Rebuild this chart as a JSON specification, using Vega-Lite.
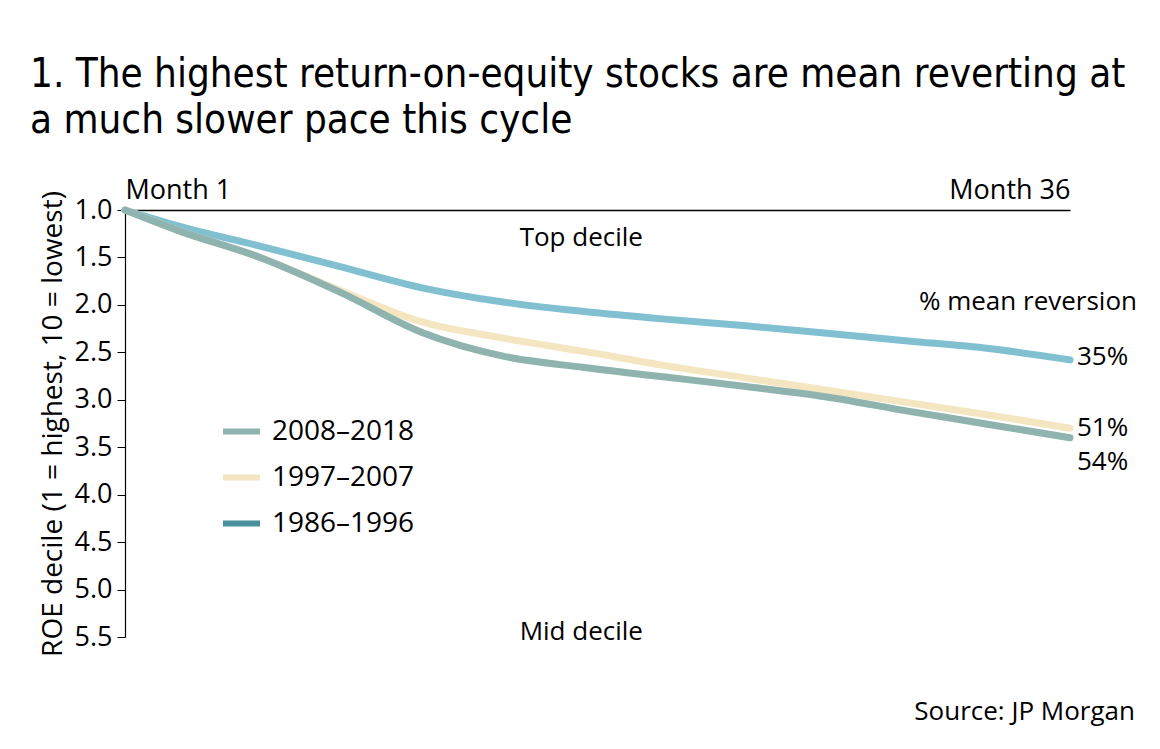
{
  "$schema": "https://vega.github.io/schema/vega-lite/v6.json",
  "width": 945,
  "height": 427,
  "autosize": {"type": "none"},
  "padding": {"left": 125, "top": 210, "right": 90, "bottom": 112},
  "background": "white",
  "title": {
    "text": ["1. The highest return-on-equity stocks are mean reverting at", "a much slower pace this cycle"],
    "anchor": "start",
    "frame": "group",
    "dx": -95,
    "offset": 35,
    "font": "DejaVu Sans Condensed",
    "fontSize": 40,
    "fontWeight": "normal",
    "lineHeight": 46,
    "color": "#000000"
  },
  "config": {
    "view": {"stroke": null},
    "font": "Open Sans",
    "axis": {"labelFont": "Open Sans", "titleFont": "Open Sans", "grid": false}
  },
  "datasets": {
    "series": [
      {"period": "1986–1996", "month": 1, "decile": 1.0},
      {"period": "1986–1996", "month": 3, "decile": 1.17},
      {"period": "1986–1996", "month": 6, "decile": 1.38},
      {"period": "1986–1996", "month": 9, "decile": 1.60},
      {"period": "1986–1996", "month": 12, "decile": 1.82},
      {"period": "1986–1996", "month": 15, "decile": 1.97},
      {"period": "1986–1996", "month": 18, "decile": 2.07},
      {"period": "1986–1996", "month": 21, "decile": 2.15},
      {"period": "1986–1996", "month": 24, "decile": 2.22},
      {"period": "1986–1996", "month": 27, "decile": 2.30},
      {"period": "1986–1996", "month": 30, "decile": 2.38},
      {"period": "1986–1996", "month": 33, "decile": 2.46},
      {"period": "1986–1996", "month": 36, "decile": 2.58},
      {"period": "1997–2007", "month": 1, "decile": 1.0},
      {"period": "1997–2007", "month": 3, "decile": 1.22},
      {"period": "1997–2007", "month": 6, "decile": 1.50},
      {"period": "1997–2007", "month": 9, "decile": 1.85},
      {"period": "1997–2007", "month": 12, "decile": 2.18},
      {"period": "1997–2007", "month": 15, "decile": 2.35},
      {"period": "1997–2007", "month": 18, "decile": 2.49},
      {"period": "1997–2007", "month": 21, "decile": 2.64},
      {"period": "1997–2007", "month": 24, "decile": 2.77},
      {"period": "1997–2007", "month": 27, "decile": 2.90},
      {"period": "1997–2007", "month": 30, "decile": 3.03},
      {"period": "1997–2007", "month": 33, "decile": 3.16},
      {"period": "1997–2007", "month": 36, "decile": 3.30},
      {"period": "2008–2018", "month": 1, "decile": 1.0},
      {"period": "2008–2018", "month": 3, "decile": 1.22},
      {"period": "2008–2018", "month": 6, "decile": 1.50},
      {"period": "2008–2018", "month": 9, "decile": 1.87},
      {"period": "2008–2018", "month": 12, "decile": 2.29},
      {"period": "2008–2018", "month": 15, "decile": 2.54},
      {"period": "2008–2018", "month": 18, "decile": 2.66},
      {"period": "2008–2018", "month": 21, "decile": 2.76},
      {"period": "2008–2018", "month": 24, "decile": 2.86},
      {"period": "2008–2018", "month": 27, "decile": 2.97},
      {"period": "2008–2018", "month": 30, "decile": 3.12},
      {"period": "2008–2018", "month": 33, "decile": 3.26},
      {"period": "2008–2018", "month": 36, "decile": 3.40}
    ],
    "center": [
      {"label": "Top decile", "month": 17.9, "decile": 1.3},
      {"label": "Mid decile", "month": 17.9, "decile": 5.45}
    ],
    "ends": [
      {"label": "35%", "month": 36, "decile": 2.55},
      {"label": "51%", "month": 36, "decile": 3.30},
      {"label": "54%", "month": 36, "decile": 3.66}
    ],
    "heading": [
      {"label": "% mean reversion", "month": 36, "decile": 1.97}
    ],
    "source": [
      {"label": "Source: JP Morgan", "month": 36, "decile": 6.29}
    ]
  },
  "layer": [
    {
      "data": {"values": []},
      "mark": {"type": "line", "strokeWidth": 6},
      "encoding": {
        "x": {"field": "month", "type": "quantitative"},
        "y": {"field": "decile", "type": "quantitative"},
        "color": {
          "field": "period", "type": "nominal",
          "scale": {"domain": ["2008–2018", "1997–2007", "1986–1996"], "range": ["#8fb3ae", "#f3e6c1", "#4a8f9c"]},
          "legend": {
            "orient": "none", "legendX": 95, "legendY": 200,
            "title": null, "symbolType": "stroke", "symbolSize": 1369, "symbolStrokeWidth": 6,
            "labelFontSize": 28, "labelColor": "#000000", "labelOffset": 9, "rowPadding": 10
          }
        }
      }
    },
    {
      "data": {"name": "series"},
      "mark": {"type": "line", "strokeWidth": 7, "strokeCap": "round", "strokeJoin": "round", "interpolate": "monotone", "clip": false},
      "encoding": {
        "x": {
          "field": "month", "type": "quantitative",
          "scale": {"domain": [1, 36], "nice": false, "zero": false},
          "axis": {
            "orient": "top", "title": null, "values": [1, 36],
            "labelExpr": "datum.value == 1 ? 'Month 1' : 'Month 36'",
            "labelFlush": true, "labelFontSize": 27, "labelColor": "#000000",
            "labelPadding": 6, "ticks": false,
            "domainColor": "#000000", "domainWidth": 1.5
          }
        },
        "y": {
          "field": "decile", "type": "quantitative",
          "scale": {"domain": [1, 5.5], "reverse": true, "nice": false, "zero": false},
          "axis": {
            "title": "ROE decile (1 = highest, 10 = lowest)",
            "values": [1, 1.5, 2, 2.5, 3, 3.5, 4, 4.5, 5, 5.5],
            "format": ".1f",
            "labelFontSize": 27, "labelColor": "#000000", "labelPadding": 5,
            "tickSize": 8, "tickColor": "#000000", "tickWidth": 1,
            "domainColor": "#000000", "domainWidth": 1.2,
            "titleFontSize": 28, "titleFontWeight": "normal", "titleColor": "#000000", "titlePadding": 7
          }
        },
        "stroke": {
          "field": "period", "type": "nominal",
          "scale": {"domain": ["2008–2018", "1997–2007", "1986–1996"], "range": ["#8fb3ae", "#f3e6c1", "#80c0d0"]},
          "legend": null
        },
        "order": {"field": "period", "type": "nominal"}
      }
    },
    {
      "data": {"name": "center"},
      "mark": {"type": "text", "align": "center", "baseline": "middle", "fontSize": 26, "color": "#000000"},
      "encoding": {
        "x": {"field": "month", "type": "quantitative"},
        "y": {"field": "decile", "type": "quantitative"},
        "text": {"field": "label"}
      }
    },
    {
      "data": {"name": "ends"},
      "mark": {"type": "text", "align": "left", "baseline": "middle", "dx": 7, "fontSize": 26, "color": "#000000"},
      "encoding": {
        "x": {"field": "month", "type": "quantitative"},
        "y": {"field": "decile", "type": "quantitative"},
        "text": {"field": "label"}
      }
    },
    {
      "data": {"name": "heading"},
      "mark": {"type": "text", "align": "right", "baseline": "middle", "dx": 67, "fontSize": 26, "color": "#000000"},
      "encoding": {
        "x": {"field": "month", "type": "quantitative"},
        "y": {"field": "decile", "type": "quantitative"},
        "text": {"field": "label"}
      }
    },
    {
      "data": {"name": "source"},
      "mark": {"type": "text", "align": "right", "baseline": "middle", "dx": 65, "fontSize": 26, "color": "#000000"},
      "encoding": {
        "x": {"field": "month", "type": "quantitative"},
        "y": {"field": "decile", "type": "quantitative"},
        "text": {"field": "label"}
      }
    }
  ]
}
